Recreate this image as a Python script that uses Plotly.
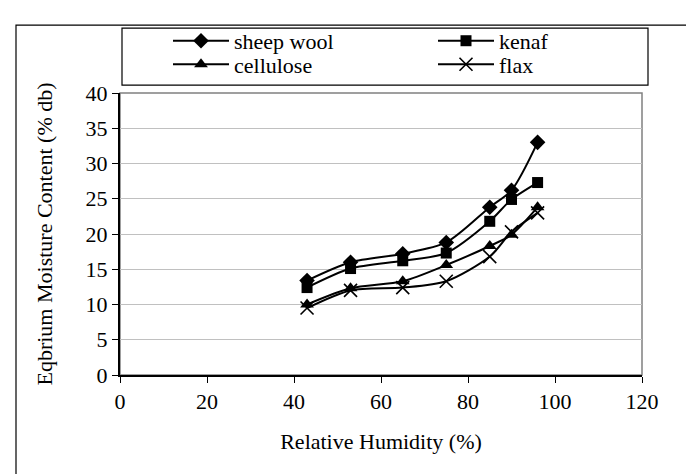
import plotly.graph_objects as go

rh = [43, 53, 65, 75, 85, 90, 96]
sheep_wool = [13.4, 16.0, 17.2, 18.8, 23.8, 26.2, 33.0]
kenaf = [12.4, 15.1, 16.2, 17.3, 21.8, 24.9, 27.3]
cellulose = [10.0, 12.3, 13.3, 15.6, 18.3, 19.9, 23.8]
flax = [9.5, 12.0, 12.4, 13.3, 16.8, 20.3, 23.0]

x_ticks = [0, 20, 40, 60, 80, 100, 120]
y_ticks = [0, 5, 10, 15, 20, 25, 30, 35, 40]

series = [
    ("sheep wool", sheep_wool, "legend", dict(symbol="diamond", size=12, color="black")),
    ("kenaf", kenaf, "legend2", dict(symbol="square", size=11, color="black")),
    ("cellulose", cellulose, "legend3", dict(symbol="triangle-up", size=12, color="black")),
    ("flax", flax, "legend4", dict(symbol="x-thin-open", size=13, color="black",
                                   line=dict(color="black", width=1.6))),
]

W, H = 694, 474
L, R, T, B = 112, 634, 80, 367
FS = 22
FONT = "Liberation Serif"

fig = go.Figure()
for name, ys, lg, mk in series:
    fig.add_trace(go.Scatter(
        x=rh, y=ys, name=name, mode="lines+markers", legend=lg,
        line=dict(color="black", width=2, shape="spline", smoothing=0.8),
        marker=mk,
    ))

def px2x(p):
    return (p - L) / (R - L)

def py2y(p):
    return (B - p) / (B - T)

shapes = [
    dict(type="rect", xref="paper", yref="paper",
         x0=px2x(8), x1=px2x(690), y0=py2y(469), y1=py2y(11),
         line=dict(color="black", width=1.2), layer="below"),
    dict(type="rect", xref="paper", yref="paper",
         x0=px2x(114), x1=px2x(640), y0=py2y(72), y1=py2y(14),
         line=dict(color="black", width=1.2)),
    dict(type="rect", xref="paper", yref="paper",
         x0=0, x1=1, y0=0, y1=1,
         line=dict(color="#808080", width=1.5), layer="below"),
]

def leg(xp, yp):
    return dict(
        orientation="v", x=px2x(xp), y=py2y(yp), xanchor="left", yanchor="middle",
        xref="paper", yref="paper", itemwidth=56,
        font=dict(family=FONT, size=FS, color="black"),
        bgcolor="rgba(0,0,0,0)", borderwidth=0,
    )

fig.update_layout(
    width=W, height=H,
    margin=dict(l=L, r=W - R, t=T, b=H - B, pad=0),
    paper_bgcolor="white", plot_bgcolor="white",
    font=dict(family=FONT, size=FS, color="black"),
    shapes=shapes,
    showlegend=True,
    legend=leg(160, 27),
    legend2=leg(425, 27),
    legend3=leg(160, 51),
    legend4=leg(425, 51),
    xaxis=dict(
        range=[0, 120], tickvals=x_ticks, ticktext=[str(v) for v in x_ticks],
        showgrid=False, zeroline=False,
        showline=True, linecolor="black", linewidth=2,
        ticks="outside", ticklen=6, tickcolor="black", tickwidth=1,
        tickfont=dict(family=FONT, size=FS),
        title=dict(text="Relative Humidity (%)", font=dict(family=FONT, size=FS), standoff=20),
    ),
    yaxis=dict(
        range=[0, 40], tickvals=y_ticks, ticktext=[str(v) for v in y_ticks],
        showgrid=True, gridcolor="#c0c0c0", gridwidth=1.2, zeroline=False,
        showline=True, linecolor="black", linewidth=2,
        ticks="outside", ticklen=6, tickcolor="black", tickwidth=1,
        tickfont=dict(family=FONT, size=FS),
        title=dict(text="Eqbrium Moisture Content (% db)", font=dict(family=FONT, size=FS), standoff=27),
    ),
)

fig.write_html("out.html")
